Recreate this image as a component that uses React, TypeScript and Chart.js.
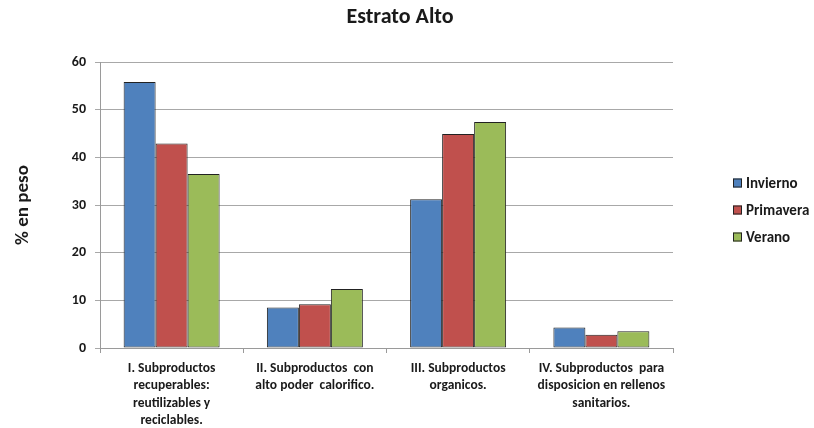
import React, { useEffect, useRef } from "react";
import { Chart, registerables } from "chart.js";

Chart.register(...registerables);

const categories: string[][] = [
  ["I. Subproductos", "recuperables:", "reutilizables y", "reciclables."],
  ["II. Subproductos  con", "alto poder  calorifico."],
  ["III. Subproductos", "organicos."],
  ["IV. Subproductos  para", "disposicion en rellenos", "sanitarios."],
];
const invierno = [55.8, 8.5, 31.2, 4.3];
const primavera = [42.9, 9.2, 44.9, 2.8];
const verano = [36.5, 12.4, 47.4, 3.5];
const seriesNames = ["Invierno", "Primavera", "Verano"];
const yTicks = [0, 10, 20, 30, 40, 50, 60];

const FONT = "Carlito, Lato, 'Open Sans', sans-serif";

const legendPlugin = {
  id: "sideLegend",
  afterDraw(chart: any) {
    const ctx = chart.ctx;
    const area = chart.chartArea;
    const ds = chart.data.datasets;
    const x0 = area.right + 60;
    const cy = (area.top + area.bottom) / 2 + 5;
    const gap = 27;
    ctx.save();
    ctx.font = `bold 15px ${FONT}`;
    ctx.textBaseline = "middle";
    ctx.textAlign = "left";
    ds.forEach((d: any, i: number) => {
      const y = cy + (i - (ds.length - 1) / 2) * gap;
      ctx.fillStyle = d.backgroundColor;
      ctx.fillRect(x0, y - 4.5, 9, 9);
      ctx.strokeStyle = "#222";
      ctx.lineWidth = 1;
      ctx.strokeRect(x0 + 0.5, y - 4, 8, 8);
      ctx.fillStyle = "#1a1a1a";
      ctx.fillText(d.label, x0 + 13, y + 1);
    });
    ctx.restore();
  },
};

export default function App() {
  const ref = useRef<HTMLCanvasElement | null>(null);
  useEffect(() => {
    document.body.style.margin = "0";
    const colors = ["#4F81BD", "#C0504D", "#9BBB59"];
    const values = [invierno, primavera, verano];
    const chart = new Chart(ref.current as HTMLCanvasElement, {
      type: "bar",
      data: {
        labels: categories,
        datasets: seriesNames.map((n, i) => ({
          label: n,
          data: values[i],
          backgroundColor: colors[i],
          borderColor: "#222222",
          borderWidth: 1,
          borderSkipped: false,
          categoryPercentage: 0.67,
          barPercentage: 1,
        })),
      },
      options: {
        animation: false,
        responsive: true,
        maintainAspectRatio: false,
        layout: { padding: { left: 0, right: 14, top: 0, bottom: 0 } },
        plugins: {
          legend: { display: false },
          tooltip: { enabled: false },
          title: {
            display: true,
            text: "Estrato Alto",
            color: "#1a1a1a",
            font: { family: FONT, size: 22, weight: "bold" },
            padding: { top: 3.8, bottom: 31.8 },
          },
        },
        scales: {
          x: {
            grid: {
              offset: true,
              drawOnChartArea: false,
              drawTicks: true,
              tickLength: 5,
              color: "#9a9a9a",
            },
            border: { display: true, color: "#9a9a9a" },
            ticks: {
              autoSkip: false,
              maxRotation: 0,
              minRotation: 0,
              padding: 7,
              color: "#1a1a1a",
              font: { family: FONT, size: 13.5, weight: "bold", lineHeight: 1.28 },
            },
            afterFit: (s: any) => {
              s.height = 80;
            },
          },
          y: {
            min: 0,
            max: 60,
            afterBuildTicks: (s: any) => {
              s.ticks = yTicks.map((v) => ({ value: v }));
            },
            grid: { color: "#a8a8a8", tickLength: 5 },
            border: { display: true, color: "#9a9a9a" },
            ticks: {
              padding: 9,
              color: "#1a1a1a",
              font: { family: FONT, size: 14, weight: "bold" },
            },
            title: {
              display: true,
              text: "% en peso",
              color: "#1a1a1a",
              font: { family: FONT, size: 19, weight: "bold" },
              padding: { top: 11.5, bottom: 0 },
            },
            afterFit: (s: any) => {
              s.width = 100;
            },
          },
          yR: {
            type: "linear",
            position: "right",
            display: true,
            grid: { display: false, drawTicks: false },
            border: { display: false },
            ticks: { display: false },
            afterFit: (s: any) => {
              s.width = 127;
            },
          },
        },
      } as any,
      plugins: [legendPlugin],
    });
    return () => chart.destroy();
  }, []);
  return (
    <div style={{ position: "relative", width: 814, height: 428 }}>
      <canvas ref={ref} />
    </div>
  );
}
